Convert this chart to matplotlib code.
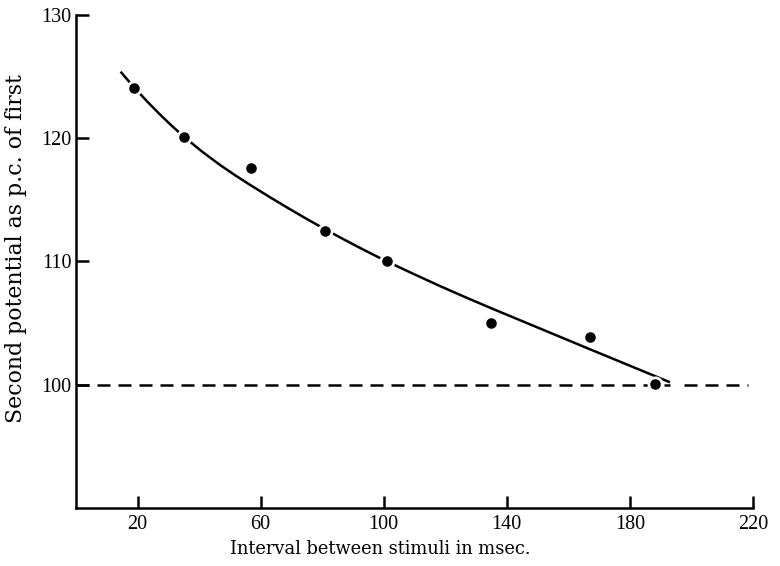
import matplotlib
matplotlib.use("Agg")
import matplotlib.pyplot as plt

# data
interval = [19, 35, 57, 81, 101, 135, 167, 188]
potential = [124.1, 120.1, 117.6, 112.5, 110.0, 105.0, 103.9, 100.1]

# hand-drawn fitted curve
curve_x = [14.5, 17, 19, 23, 27, 31, 35, 41, 47, 52, 57, 63, 69, 75, 81, 86, 91, 96, 101,
           109, 118, 126, 135, 143, 151, 159, 167, 174, 180, 187, 193]
curve_y = [125.4, 124.67, 124.1, 123.02, 122.0, 121.04, 120.14, 118.91, 117.8, 116.95,
           116.15, 115.22, 114.32, 113.45, 112.61, 111.93, 111.27, 110.63, 110.01,
           109.07, 108.04, 107.16, 106.2, 105.37, 104.54, 103.71, 102.88, 102.16,
           101.54, 100.82, 100.2]

baseline_left_x = [0, 193]
baseline_right_x = [197.5, 218.5]
baseline_y = [100, 100]

xticks = [20, 60, 100, 140, 180, 220]
yticks = [100, 110, 120, 130]

plt.rcParams['font.family'] = ['Liberation Serif', 'DejaVu Serif']

fig = plt.figure(figsize=(7.8, 5.66), dpi=100)
ax = fig.add_axes([0.0974, 0.1025, 0.868, 0.871])

ax.plot(baseline_left_x, baseline_y, color='black', lw=1.8, dashes=(5.2, 3.2), zorder=2)
ax.plot(baseline_right_x, baseline_y, color='black', lw=1.8, dashes=(5.2, 3.2), zorder=2)
ax.plot(curve_x, curve_y, color='black', lw=1.8, zorder=2, solid_capstyle='butt',
        solid_joinstyle='round')
ax.plot(interval, potential, 'o', color='white', ms=11.5, mew=0, zorder=3)
ax.plot(interval, potential, 'o', color='black', ms=7.6, mew=0, zorder=4)

ax.set_xlim(0, 220)
ax.set_ylim(90, 130)
ax.set_xticks(xticks)
ax.set_yticks(yticks)
ax.tick_params(direction='in', length=9, width=1.8, labelsize=14.5, pad=5)
ax.tick_params(axis='y', pad=3)
for s in ['top', 'right']:
    ax.spines[s].set_visible(False)
for s in ['left', 'bottom']:
    ax.spines[s].set_linewidth(1.8)

ax.set_xlabel('Interval between stimuli in msec.', fontsize=12.9, family='DejaVu Serif')
ax.set_ylabel('Second potential as p.c. of first', fontsize=15.8, family='DejaVu Serif')
ax.xaxis.set_label_coords((380 - 76) / 677, -(549 - 508) / 493)
ax.yaxis.set_label_coords(-(76 - 16) / 677, (508 - 249) / 493)
ax.xaxis.label.set_va('center')
ax.yaxis.label.set_va('center')

fig.savefig('out.png', dpi=100)
